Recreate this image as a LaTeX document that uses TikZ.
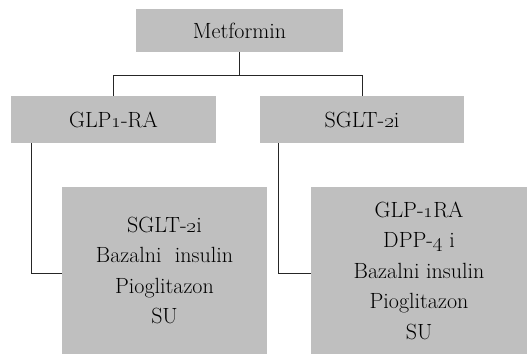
\documentclass[tikz,border=0pt]{standalone}
\usepackage{tikz}

\begin{document}
\begin{tikzpicture}[x=1pt, y=-1pt,
    box/.style={rectangle, fill=black!25, draw=none, align=center, inner sep=0pt,
        font=\fontsize{22}{30.5}\selectfont},
    link/.style={draw=black!85, line width=1pt}]

    % Fix the page to the size of the reference
    \useasboundingbox (0, 0) rectangle (527, 354);

    % Top level
    \node[box, minimum width=207, minimum height=43] (met) at (239.5, 30.5) {Metformin};

    % Second level
    \node[box, minimum width=205, minimum height=47] (glp) at (113.5, 119.5) {GLP\oldstylenums{1}-RA};
    \node[box, minimum width=204, minimum height=47] (sglt) at (362, 119.5) {SGLT-\oldstylenums{2}i};

    % Third level
    \node[box, minimum width=205, minimum height=167] (lbox) at (164.5, 270.5)
        {SGLT-\oldstylenums{2}i\\ Bazalni\ \ insulin\\ Pioglitazon\\ SU};
    \node[box, minimum width=216, minimum height=167] (rbox) at (419, 270.5)
        {GLP-\oldstylenums{1}RA\\ DPP-\oldstylenums{4} i\\ Bazalni insulin\\ Pioglitazon\\ SU};

    % Connectors
    \coordinate (split) at (239.5, 75);
    \draw[link] (met.south) -- (split) -| (glp.north);
    \draw[link] (split) -| (sglt.north);

    \draw[link] ([xshift=21pt]glp.south west) |- ([yshift=-2.5pt]lbox.west);
    \draw[link] ([xshift=19pt]sglt.south west) |- ([yshift=-2.5pt]rbox.west);

\end{tikzpicture}
\end{document}
